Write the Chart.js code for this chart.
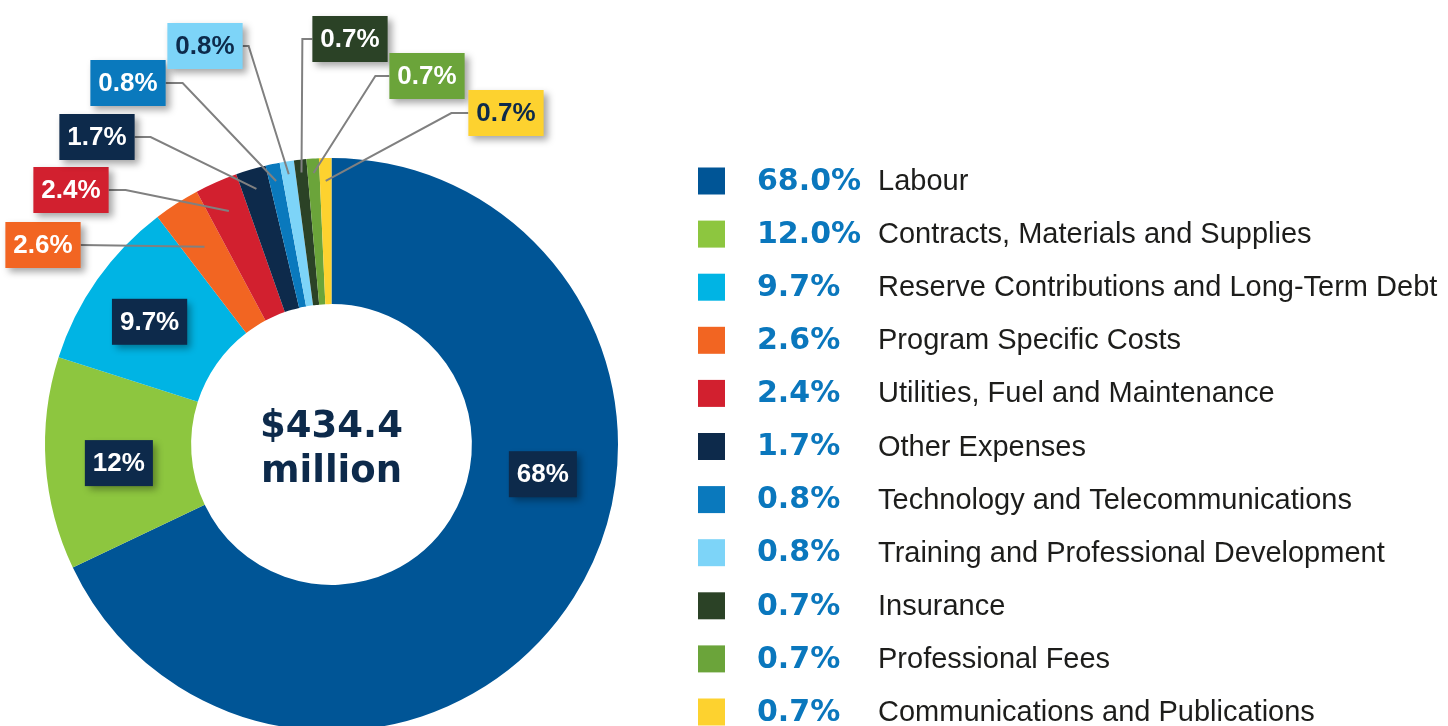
<!DOCTYPE html>
<html>
<head>
<meta charset="utf-8">
<script src="https://cdn.jsdelivr.net/npm/chart.js@4.4.0/dist/chart.umd.min.js"></script>
<style>
  body { margin: 0; background: #fff; }
  #wrap { width: 1448px; height: 726px; overflow: hidden; position: relative; }
</style>
</head>
<body>
<div id="wrap"><canvas id="myChart" width="1448" height="900"></canvas></div>
<script>
// budget split
const categories = [
    "Labour",
    "Contracts, Materials and Supplies",
    "Reserve Contributions and Long-Term Debt",
    "Program Specific Costs",
    "Utilities, Fuel and Maintenance",
    "Other Expenses",
    "Technology and Telecommunications",
    "Training and Professional Development",
    "Insurance",
    "Professional Fees",
    "Communications and Publications"
];
const shares = [68.0, 12.0, 9.7, 2.6, 2.4, 1.7, 0.8, 0.8, 0.7, 0.7, 0.7];
const sliceLabels = ["68%", "12%", "9.7%", "2.6%", "2.4%", "1.7%", "0.8%", "0.8%", "0.7%", "0.7%", "0.7%"];
const totalLines = ["$434.4", "million"];

var sliceColors = [
    "#005596", "#8dc63f", "#00b4e4", "#f26522", "#d2202f", "#0d2a4b",
    "#0a79bd", "#7dd4f8", "#2b4226", "#6ba43a", "#fdd22f"
];
var navy = "#0d2a4b";
// label box colour / text colour for each slice
var boxColors = [navy, navy, navy, "#f26522", "#d2202f", navy, "#0a79bd", "#7dd4f8", "#2b4226", "#6ba43a", "#fdd22f"];
var boxText = ["#fff", "#fff", "#fff", "#fff", "#fff", "#fff", "#fff", navy, "#fff", "#fff", navy];

// inside labels: angle (deg from top, clockwise) override and radius shift
var insideTweaks = { 0: { deg: 98, dr: 0 }, 1: { deg: 265, dr: 0 }, 2: { deg: 304, dr: 6 } };

// where the outside labels sit (box centre) and how deep the leader goes into the slice
var callouts = {
    3: { bx: 43, by: 245, rf: 0.82, side: "right", elbow: 0 },
    4: { bx: 71, by: 190, rf: 0.89, side: "right", elbow: 17 },
    5: { bx: 97, by: 137, rf: 0.93, side: "right", elbow: 16 },
    6: { bx: 128, by: 83, rf: 0.94, side: "right", elbow: 17 },
    7: { bx: 205, by: 46, rf: 0.955, side: "right", elbow: 6 },
    8: { bx: 350, by: 39, rf: 0.955, side: "left", elbow: 10 },
    9: { bx: 427, by: 76, rf: 0.95, side: "left", elbow: 14 },
    10: { bx: 506, by: 113, rf: 0.92, side: "left", elbow: 17 }
};

function drawBox(ctx, cx, cy, text, bg, fg) {
    ctx.font = "bold 26px 'Liberation Sans', Arial, sans-serif";
    var w = ctx.measureText(text).width + 16;
    var h = 46;
    ctx.save();
    ctx.shadowColor = "rgba(0,0,0,0.35)";
    ctx.shadowBlur = 7;
    ctx.shadowOffsetX = 4;
    ctx.shadowOffsetY = 4;
    ctx.fillStyle = bg;
    ctx.fillRect(cx - w / 2, cy - h / 2, w, h);
    ctx.restore();
    ctx.fillStyle = fg;
    ctx.textAlign = "center";
    ctx.textBaseline = "middle";
    ctx.fillText(text, cx, cy + 1);
    return w;
}

const labelPlugin = {
    id: "labelPlugin",
    afterDraw(chart) {
        const ctx = chart.ctx;
        const arcs = chart.getDatasetMeta(0).data;
        ctx.save();

        // centre text
        var c = arcs[0].getProps(["x", "y"], true);
        ctx.fillStyle = navy;
        ctx.font = "bold 37px 'DejaVu Sans', sans-serif";
        ctx.textAlign = "center";
        ctx.textBaseline = "alphabetic";
        ctx.fillText(totalLines[0], c.x, c.y - 8);
        ctx.fillText(totalLines[1], c.x, c.y + 37);

        arcs.forEach((arc, i) => {
            const p = arc.getProps(["x", "y", "startAngle", "endAngle", "innerRadius", "outerRadius"], true);
            var mid = (p.startAngle + p.endAngle) / 2;
            var co = callouts[i];
            if (!co) {
                // big slices: label inside the ring
                var t = insideTweaks[i];
                if (t && t.deg !== null) mid = -Math.PI / 2 + t.deg * Math.PI / 180;
                var r = (p.innerRadius + p.outerRadius) / 2 + (t ? t.dr : 0);
                drawBox(ctx, p.x + r * Math.cos(mid), p.y + r * Math.sin(mid), sliceLabels[i], boxColors[i], boxText[i]);
                return;
            }
            var ex = p.x + p.outerRadius * co.rf * Math.cos(mid);
            var ey = p.y + p.outerRadius * co.rf * Math.sin(mid);
            ctx.font = "bold 26px 'Liberation Sans', Arial, sans-serif";
            var w = ctx.measureText(sliceLabels[i]).width + 16;
            var sx = co.side === "right" ? co.bx + w / 2 : co.bx - w / 2;
            var kx = co.side === "right" ? sx + co.elbow : sx - co.elbow;
            ctx.strokeStyle = "#808080";
            ctx.lineWidth = 2;
            ctx.beginPath();
            ctx.moveTo(sx, co.by);
            if (co.elbow) ctx.lineTo(kx, co.by);
            ctx.lineTo(ex, ey);
            ctx.stroke();
            drawBox(ctx, co.bx, co.by, sliceLabels[i], boxColors[i], boxText[i]);
        });

        // legend on the right
        categories.forEach((name, i) => {
            var y = 181 + i * 53.1;
            ctx.fillStyle = sliceColors[i];
            ctx.fillRect(698, y - 13.5, 27, 27);
            ctx.textAlign = "left";
            ctx.textBaseline = "middle";
            ctx.fillStyle = "#0a77bd";
            ctx.font = "bold 30px 'DejaVu Sans', sans-serif";
            ctx.fillText(shares[i].toFixed(1) + "%", 757, y + 1);
            ctx.fillStyle = "#1d1d1b";
            ctx.font = "29px 'Liberation Sans', Arial, sans-serif";
            ctx.fillText(name, 878, y + 1);
        });
        ctx.restore();
    }
};

new Chart("myChart", {
    type: "doughnut",
    data: {
        labels: categories,
        datasets: [{
            data: shares,
            backgroundColor: sliceColors,
            borderWidth: 0
        }]
    },
    options: {
        responsive: false,
        devicePixelRatio: 1,
        animation: false,
        cutout: "49%",
        layout: { padding: { left: 45, top: 158, right: 830, bottom: 169 } },
        plugins: {
            legend: { display: false },
            tooltip: { enabled: false }
        }
    },
    plugins: [labelPlugin]
});
</script>
</body>
</html>
